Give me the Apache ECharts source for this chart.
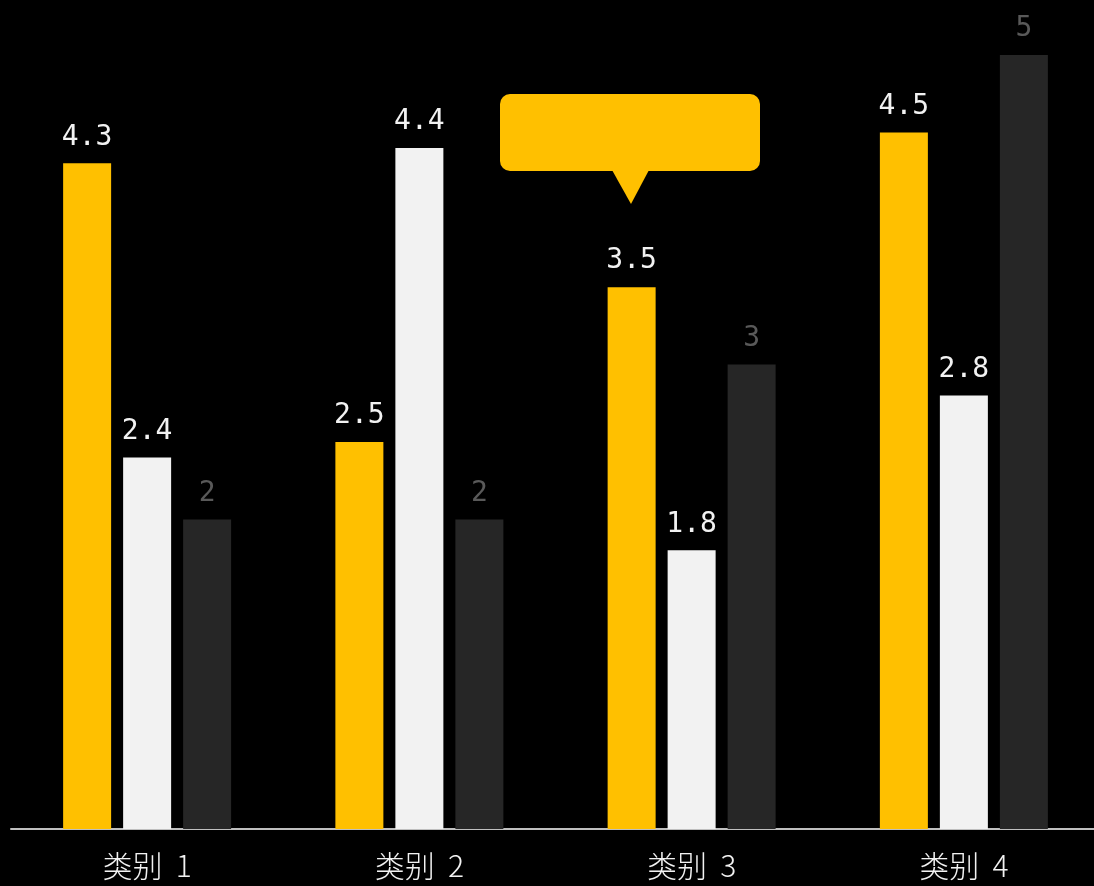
<!DOCTYPE html>
<html>
<head>
<meta charset="utf-8">
<script src="https://cdn.jsdelivr.net/npm/echarts@6/dist/echarts.min.js"></script>
<style>
  html, body { margin: 0; padding: 0; background: #000; overflow: hidden; }
  #chart { width: 1100px; height: 886px; }
</style>
</head>
<body>
<div id="chart"></div>
<script>
const categories = ["类别 1", "类别 2", "类别 3", "类别 4"];
const series1 = [4.3, 2.5, 3.5, 4.5];
const series2 = [2.4, 4.4, 1.8, 2.8];
const series3 = [2, 2, 3, 5];

const chart = echarts.init(document.getElementById("chart"));

// 数值标签
function barLabel(color) {
  return {
    show: true,
    position: "top",
    distance: 12,
    color: color,
    fontFamily: "DejaVu Sans Mono",
    fontSize: 28
  };
}

chart.setOption({
  backgroundColor: "#000",
  animation: false,
  grid: { left: 11, right: 0, top: 55, bottom: 57 },
  xAxis: {
    type: "category",
    data: categories,
    axisLine: { show: true, lineStyle: { color: "#BFBFBF", width: 2 } },
    axisTick: { show: false },
    axisLabel: {
      color: "#F2F2F2",
      fontFamily: "Noto Sans CJK JP",
      fontWeight: 300,
      fontSize: 30,
      margin: 22,
      formatter: v => v.replace(" ", "  ")
    }
  },
  yAxis: {
    type: "value",
    min: 0,
    max: 5,
    show: false,
    splitLine: { show: false }
  },
  series: [
    {
      type: "bar",
      data: series1,
      barWidth: 48,
      barGap: "25%",
      itemStyle: { color: "#FFC000" },
      label: barLabel("#F2F2F2")
    },
    {
      type: "bar",
      data: series2,
      barWidth: 48,
      barGap: "25%",
      itemStyle: { color: "#F2F2F2" },
      label: barLabel("#F2F2F2")
    },
    {
      type: "bar",
      data: series3,
      barWidth: 48,
      barGap: "25%",
      itemStyle: { color: "#262626" },
      label: barLabel("#595959")
    }
  ],
  // 标注气泡
  graphic: [
    {
      type: "rect",
      shape: { x: 500, y: 94, width: 260, height: 77, r: 10 },
      style: { fill: "#FFC000" }
    },
    {
      type: "polygon",
      shape: { points: [[612, 170], [649, 170], [631, 204]] },
      style: { fill: "#FFC000" }
    }
  ]
});
</script>
</body>
</html>
